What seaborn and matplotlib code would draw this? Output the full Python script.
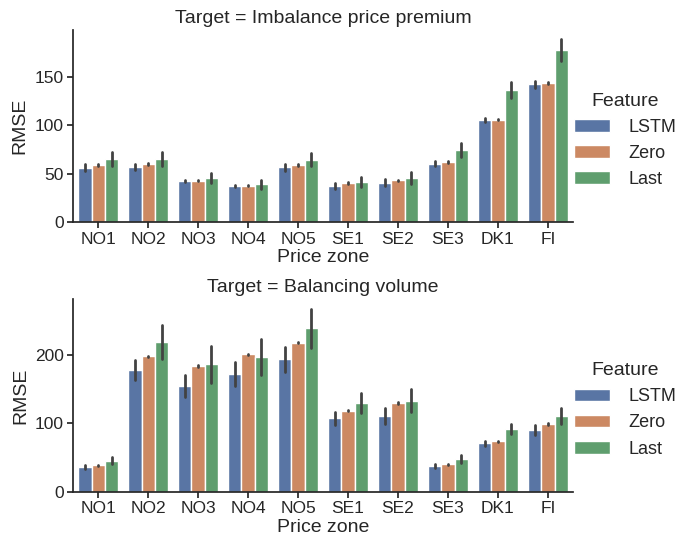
import numpy as np
import pandas as pd
import matplotlib.pyplot as plt
import seaborn as sns

# =========================
# DATA
# =========================
zones = ["NO1", "NO2", "NO3", "NO4", "NO5", "SE1", "SE2", "SE3", "DK1", "FI"]
features = ["LSTM", "Zero", "Last"]

# Imbalance price premium: mean RMSE and half-width of the error bar
price_lstm = [56, 57, 42.6, 37.4, 56.6, 37.4, 40.5, 60.2, 105.6, 142.7]
price_zero = [59, 60, 42.6, 37.4, 59, 39.8, 43, 62, 106, 144]
price_last = [65, 65, 45.4, 38.8, 64.5, 41.2, 45.4, 74.5, 136.5, 178]
price_lstm_err = [3.5, 3, 1, 1, 3.5, 3, 3.5, 2.5, 2, 3.5]
price_zero_err = [1, 0.7, 0.5, 0.7, 0.7, 1, 0.7, 0.7, 0.5, 0.7]
price_last_err = [7, 7, 5.5, 5, 7, 5.5, 6, 7, 8.5, 11.5]

# Balancing volume
vol_lstm = [36.2, 177.4, 155, 172, 193.3, 107, 110.7, 37.7, 71, 90.4]
vol_zero = [38.7, 197.7, 184, 201, 218, 118.4, 129.6, 40, 73.5, 99]
vol_last = [45.5, 218.8, 186, 196.7, 239, 129.6, 132.9, 47.8, 91.9, 110.1]
vol_lstm_err = [3, 14.5, 16, 17, 18, 10, 12, 3, 3.5, 7]
vol_zero_err = [1, 1, 1, 1, 1, 1, 1, 1, 1, 1]
vol_last_err = [5, 24.6, 26.5, 26, 28.7, 15, 17, 6, 7, 11.6]

targets = ["Imbalance price premium", "Balancing volume"]


def build_frame(means, errs):
    # two rows per bar (mean - err, mean + err) so seaborn draws the range as error bar
    rows = []
    for feat, m_list, e_list in zip(features, means, errs):
        for zone, m, e in zip(zones, m_list, e_list):
            rows.append({"Price zone": zone, "Feature": feat, "RMSE": m - e})
            rows.append({"Price zone": zone, "Feature": feat, "RMSE": m + e})
    return pd.DataFrame(rows)


frames = [
    build_frame([price_lstm, price_zero, price_last],
                [price_lstm_err, price_zero_err, price_last_err]),
    build_frame([vol_lstm, vol_zero, vol_last],
                [vol_lstm_err, vol_zero_err, vol_last_err]),
]

# =========================
# PLOT
# =========================
sns.set_theme(style="ticks", palette="deep")
plt.rcParams["font.family"] = ["Liberation Sans", "DejaVu Sans"]
plt.rcParams["xtick.major.size"] = 4
plt.rcParams["ytick.major.size"] = 4

fig = plt.figure(figsize=(6.78, 5.37), dpi=100)
axes = [
    fig.add_axes([0.108, 0.587, 0.737, 0.357]),
    fig.add_axes([0.108, 0.0844, 0.737, 0.358]),
]

for ax, df, target in zip(axes, frames, targets):
    sns.barplot(data=df, x="Price zone", y="RMSE", hue="Feature",
                order=zones, hue_order=features,
                errorbar=("pi", 100), err_kws={"linewidth": 2.0},
                ax=ax)
    sns.despine(ax=ax)
    ax.set_title(f"Target = {target}", fontsize=14, pad=5)
    ax.set_xlabel("Price zone", fontsize=14, labelpad=2)
    ax.set_ylabel("RMSE", fontsize=14)
    ax.tick_params(labelsize=12.5, pad=3)
    ax.legend(title="Feature", loc="center left", bbox_to_anchor=(0.97, 0.425),
              frameon=False, fontsize=13, title_fontsize=14, handletextpad=1.0)

plt.savefig("out.png", dpi=100)
plt.close()
